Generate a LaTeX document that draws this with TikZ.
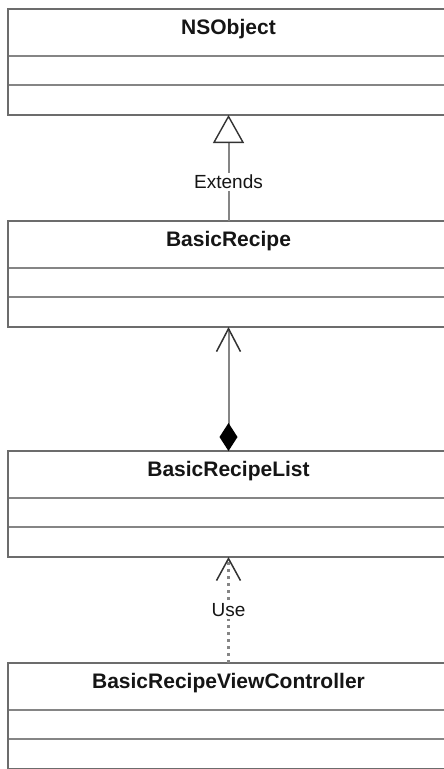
\documentclass[tikz,border=0pt]{standalone}
\usepackage{fontspec}
\setmainfont{Liberation Sans}
\usetikzlibrary{positioning,arrows.meta}
\definecolor{umlline}{HTML}{858585}
\definecolor{umlframe}{HTML}{6C6C6C}
\definecolor{umlhead}{HTML}{333333}
\definecolor{umltext}{HTML}{151515}
\begin{document}
\begin{tikzpicture}[x=1pt,y=1pt,
  classname/.style={draw=umlline,line width=1.4pt,outer sep=0pt,inner xsep=0pt,inner ysep=0pt,
    minimum width=441pt,text height=25pt,text depth=22pt,text=umltext,
    font=\fontsize{21}{25}\selectfont\bfseries},
  classpart/.style={draw=umlline,line width=1.4pt,outer sep=0pt,inner sep=0pt,
    minimum width=441pt,minimum height=#1},
  classframe/.style={draw=umlframe,line width=2pt},
  connlabel/.style={fill=white,inner sep=2pt,text=umltext,font=\fontsize{19}{23}\selectfont},
  extends/.style={draw=umlline,line width=2pt,
    -{Triangle[length=28pt,width=31pt,color=umlhead,fill=white,line width=1.4pt]}},
  composition/.style={draw=umlline,line width=2pt,
    {Diamond[length=28pt,width=18pt,color=black,fill=black]}-{Straight Barb[length=23pt,width=24pt,color=umlhead,line width=1.5pt]}},
  usage/.style={draw=umlline,line width=2.4pt,dash pattern=on 3pt off 4pt,
    -{Straight Barb[length=22pt,width=24pt,color=umlhead,line width=1.5pt]}}]
\clip (0,0) rectangle (444,-769);
\fill[white] (0,0) rectangle (444,-769);

\node[classname,anchor=north] (nsobject) at (228.5,-9) {NSObject};
\node[classpart=29pt,below=0pt of nsobject] (nsobject-attr) {};
\node[classpart=30pt,below=0pt of nsobject-attr] (nsobject-ops) {};

\node[classname,below=106pt of nsobject-ops] (basicrecipe) {BasicRecipe};
\node[classpart=29pt,below=0pt of basicrecipe] (basicrecipe-attr) {};
\node[classpart=30pt,below=0pt of basicrecipe-attr] (basicrecipe-ops) {};

\node[classname,below=124pt of basicrecipe-ops] (basicrecipelist) {BasicRecipeList};
\node[classpart=29pt,below=0pt of basicrecipelist] (basicrecipelist-attr) {};
\node[classpart=30pt,below=0pt of basicrecipelist-attr] (basicrecipelist-ops) {};

\node[classname,below=106pt of basicrecipelist-ops] (viewcontroller) {BasicRecipeViewController};
\node[classpart=29pt,below=0pt of viewcontroller] (viewcontroller-attr) {};
\node[classpart=30pt,below=0pt of viewcontroller-attr] (viewcontroller-ops) {};

\foreach \c in {nsobject,basicrecipe,basicrecipelist,viewcontroller}
  \draw[classframe] (\c.north west) rectangle (\c-ops.south east);

\draw[extends] (basicrecipe.north) -- node[connlabel,pos=0.37] {Extends} (nsobject-ops.south);
\draw[composition] (basicrecipelist.north) -- (basicrecipe-ops.south);
\draw[usage] (viewcontroller.north) -- node[connlabel,pos=0.5] {Use} (basicrecipelist-ops.south);
\end{tikzpicture}
\end{document}
